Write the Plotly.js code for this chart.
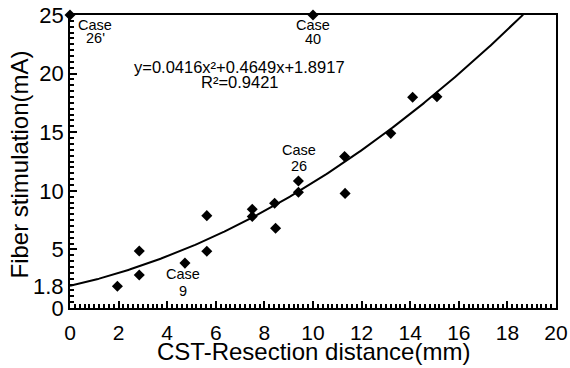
<!DOCTYPE html>
<html>
<head>
<meta charset="utf-8">
<script src="https://cdn.plot.ly/plotly-3.0.1.min.js"></script>
<style>html,body{margin:0;padding:0;background:#fff;}#chart{width:570px;height:368px;}</style>
</head>
<body>
<div id="chart"></div>
<script>
// Measured cases: CST-resection distance (mm) vs fiber stimulation (mA)
const distanceMm = [1.95, 2.85, 2.85, 4.73, 5.63, 5.63, 7.5, 7.5, 8.42, 8.46, 9.4, 9.4, 11.3, 11.32, 13.2, 14.1, 15.1, 10.0, 0.0];
const stimulationMa = [1.85, 4.86, 2.82, 3.83, 7.88, 4.85, 8.42, 7.8, 8.93, 6.8, 10.84, 9.87, 12.92, 9.78, 14.9, 17.98, 18.02, 25.0, 25.0];
// Quadratic fit printed on the chart: y = a x^2 + b x + c
const fitCoeffs = [0.0416, 0.4649, 1.8917];
const fitLabel = 'y=0.0416x²+0.4649x+1.8917';
const r2Label = 'R²=0.9421';
const extraYTick = [1.8];
const extraYTickText = ['1.8'];
const caseTop = ['Case', 'Case', 'Case', 'Case'];
const caseNum = ["26'", '40', '26', '9'];
const caseLabelX = [1.03, 10.0, 9.42, 4.64];
const caseTopY = [24.15, 24.15, 13.48, 2.9];
const caseNumY = [23.0, 22.95, 12.1, 1.45];

const fitX = [], fitY = [];
for (let i = 0; i <= 400; i++) {
  const x = i * 0.05;
  const y = fitCoeffs[0] * x * x + fitCoeffs[1] * x + fitCoeffs[2];
  if (y > 25.05) break;
  fitX.push(x); fitY.push(y);
}

const font = 'Liberation Sans, Arial, sans-serif';
const traces = [
  {x: fitX, y: fitY, mode: 'lines', line: {color: '#000', width: 2}, hoverinfo: 'skip', cliponaxis: false},
  {x: distanceMm, y: stimulationMa, mode: 'markers', cliponaxis: false,
   marker: {symbol: 'diamond', size: 8.5, color: '#000'}}
];

const annotations = [];
caseTop.forEach((t, i) => {
  annotations.push({x: caseLabelX[i], y: caseTopY[i], xref: 'x', yref: 'y', text: t, showarrow: false,
    font: {family: font, size: 14.5, color: '#000'}, xanchor: 'center', yanchor: 'middle', borderpad: 0});
  annotations.push({x: caseLabelX[i], y: caseNumY[i], xref: 'x', yref: 'y', text: caseNum[i], showarrow: false,
    font: {family: font, size: 14.5, color: '#000'}, xanchor: 'center', yanchor: 'middle', borderpad: 0});
});
annotations.push({x: 6.96, y: 20.6, xref: 'x', yref: 'y', text: fitLabel, showarrow: false,
  font: {family: font, size: 16.5, color: '#000'}, xanchor: 'center', yanchor: 'middle', borderpad: 0});
annotations.push({x: 7.0, y: 19.25, xref: 'x', yref: 'y', text: r2Label, showarrow: false,
  font: {family: font, size: 16.5, color: '#000'}, xanchor: 'center', yanchor: 'middle', borderpad: 0});
extraYTick.forEach((v, i) => {
  annotations.push({x: 0, y: v, xref: 'paper', yref: 'y', xshift: -5, text: extraYTickText[i], showarrow: false,
    font: {family: font, size: 22, color: '#000'}, xanchor: 'right', yanchor: 'middle', borderpad: 0});
});
annotations.push({x: 0.5, y: 0, xref: 'paper', yref: 'paper', yshift: -29, text: 'CST-Resection distance(mm)',
  showarrow: false, font: {family: font, size: 24, color: '#000'}, xanchor: 'center', yanchor: 'top', borderpad: 0});
annotations.push({x: 0, y: 0.5, xref: 'paper', yref: 'paper', xshift: -51, yshift: -3, text: 'Fiber stimulation(mA)',
  textangle: -90, showarrow: false, font: {family: font, size: 24, color: '#000'}, xanchor: 'center', yanchor: 'middle'});

const layout = {
  width: 570, height: 368,
  margin: {l: 70, r: 14, t: 15, b: 60},
  showlegend: false,
  xaxis: {range: [0, 20], dtick: 2, ticks: 'inside', ticklen: 7, tickwidth: 2,
    tickcolor: '#000', showgrid: false, zeroline: false,
    showline: true, linecolor: '#000', linewidth: 1.5, mirror: true, ticklabelstandoff: 5,
    tickfont: {family: font, size: 21, color: '#000'},
    minor: {dtick: 0.2, ticks: 'inside', ticklen: 4, tickwidth: 1.5, tickcolor: '#000', showgrid: false}},
  yaxis: {range: [0, 25], dtick: 5, ticks: 'inside', ticklen: 7, tickwidth: 2,
    tickcolor: '#000', showgrid: false, zeroline: false,
    showline: true, linecolor: '#000', linewidth: 1.5, mirror: true,
    tickfont: {family: font, size: 22, color: '#000'},
    minor: {dtick: 0.5, ticks: 'inside', ticklen: 4, tickwidth: 1.5, tickcolor: '#000', showgrid: false}},
  annotations: annotations
};

Plotly.newPlot('chart', traces, layout, {displayModeBar: false});
</script>
</body>
</html>
